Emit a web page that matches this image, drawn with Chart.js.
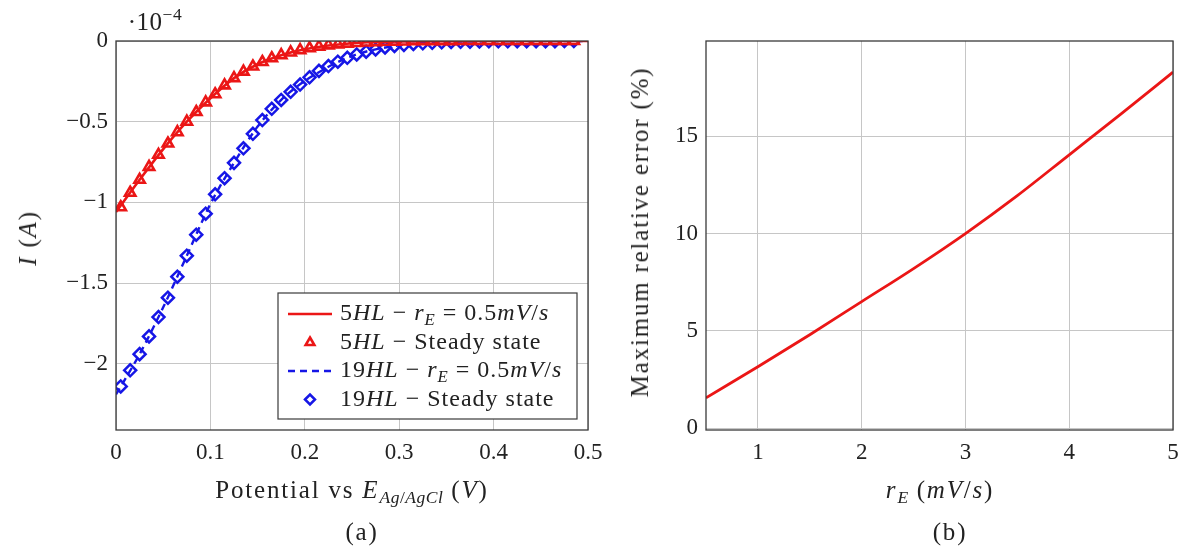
<!DOCTYPE html>
<html>
<head>
<meta charset="utf-8">
<script src="https://cdn.jsdelivr.net/npm/chart.js@4.4.1/dist/chart.umd.min.js"></script>
<style>
  body { margin: 0; background: #fff; }
  #wrap { position: relative; width: 1192px; height: 549px; font-family: 'Liberation Serif', serif; color: #222; }
  canvas { position: absolute; top: 0; }
  .lbl { position: absolute; transform: translate(-50%, -50%); white-space: nowrap; font-size: 25px; letter-spacing: 1.8px; }
  .rot { transform: translate(-50%, -50%) rotate(-90deg); }
  sub { font-size: 70%; vertical-align: -0.3em; line-height: 0; letter-spacing: 0.5px; }
  sup { font-size: 70%; vertical-align: 0.6em; line-height: 0; }
</style>
</head>
<body>
<div id="wrap">
  <canvas id="chartA" width="630" height="549" style="left:0"></canvas>
  <canvas id="chartB" width="592" height="549" style="left:600px"></canvas>
  <div class="lbl" style="left:155px; top:22px; letter-spacing:0.5px;">·10<sup>−4</sup></div>
  <div class="lbl rot" style="left:28px; top:238px;"><i>I</i> (<i>A</i>)</div>
  <div class="lbl" style="left:352px; top:490px;">Potential vs <i>E</i><sub><i>Ag</i>/<i>AgCl</i></sub> (<i>V</i>)</div>
  <div class="lbl" style="left:362px; top:532px;">(a)</div>
  <div class="lbl rot" style="left:640px; top:232px;">Maximum relative error (%)</div>
  <div class="lbl" style="left:940px; top:490px;"><i>r<sub>E</sub></i> (<i>mV</i>/<i>s</i>)</div>
  <div class="lbl" style="left:950px; top:532px;">(b)</div>
</div>
<script>
// ---- datos panel (a): corriente (x 1e-4 A) vs potencial (V) ----
const lineX = [0, 0.025, 0.05, 0.075, 0.1, 0.125, 0.15, 0.175, 0.2, 0.25, 0.3, 0.35, 0.4, 0.45, 0.5];
const line5HL = [-1.06, -0.86, -0.67, -0.50, -0.355, -0.23, -0.144, -0.088, -0.051, -0.014, -0.0035, -0.001, 0, 0, 0];
const line19HL = [-2.19, -1.94, -1.65, -1.33, -1.01, -0.755, -0.53, -0.365, -0.248, -0.093, -0.027, -0.007, -0.002, -0.001, 0];

const markX = [0.005, 0.015, 0.025, 0.035, 0.045, 0.055, 0.065, 0.075, 0.085, 0.095,
  0.105, 0.115, 0.125, 0.135, 0.145, 0.155, 0.165, 0.175, 0.185, 0.195,
  0.205, 0.215, 0.225, 0.235, 0.245, 0.255, 0.265, 0.275, 0.285, 0.295,
  0.305, 0.315, 0.325, 0.335, 0.345, 0.355, 0.365, 0.375, 0.385, 0.395,
  0.405, 0.415, 0.425, 0.435, 0.445, 0.455, 0.465, 0.475, 0.485];
const mark5HL = [-1.03, -0.94, -0.86, -0.78, -0.705, -0.635, -0.565, -0.50, -0.44, -0.38,
  -0.33, -0.275, -0.23, -0.19, -0.158, -0.13, -0.107, -0.088, -0.071, -0.057,
  -0.045, -0.035, -0.027, -0.021, -0.016, -0.012, -0.009, -0.007, -0.005, -0.004,
  -0.003, -0.002, -0.002, -0.001, -0.001, -0.001, 0, 0, 0, 0,
  0, 0, 0, 0, 0, 0, 0, 0, 0];
const mark19HL = [-2.14, -2.04, -1.94, -1.83, -1.71, -1.59, -1.46, -1.33, -1.20, -1.07,
  -0.95, -0.85, -0.755, -0.665, -0.575, -0.49, -0.42, -0.365, -0.315, -0.27,
  -0.225, -0.185, -0.155, -0.128, -0.104, -0.083, -0.066, -0.052, -0.04, -0.031,
  -0.024, -0.018, -0.014, -0.011, -0.008, -0.006, -0.005, -0.004, -0.003, -0.002,
  -0.002, -0.002, -0.001, -0.001, -0.001, -0.001, -0.001, 0, 0];

const xTicksA = [0, 0.1, 0.2, 0.3, 0.4, 0.5];
const yTicksA = [-2, -1.5, -1, -0.5, 0];

// ---- datos panel (b): error relativo maximo (%) vs r_E (mV/s) ----
const rateE = [0.5, 1, 1.5, 2, 2.5, 3, 3.5, 4, 4.5, 5];
const maxError = [1.55, 3.15, 4.8, 6.5, 8.2, 10.0, 11.95, 14.05, 16.15, 18.3];
const xTicksB = [1, 2, 3, 4, 5];
const yTicksB = [0, 5, 10, 15];

const RED = 'rgb(235,22,22)';
const BLUE = 'rgb(22,22,230)';
const GRID = '#c6c6c6';
const FONT = 'Liberation Serif';

Chart.defaults.font.family = FONT;
Chart.defaults.color = '#222';

const pts = (xs, ys) => xs.map((x, i) => ({ x: x, y: ys[i] }));
const fmt = v => (v < 0 ? '−' : '') + String(Math.abs(v));

// marco completo alrededor del area de la grafica
const framePlugin = {
  id: 'frame',
  afterDraw(chart) {
    const a = chart.chartArea, ctx = chart.ctx;
    ctx.save();
    ctx.strokeStyle = '#3a3a3a';
    ctx.lineWidth = 1.3;
    ctx.strokeRect(a.left, a.top, a.right - a.left, a.bottom - a.top);
    ctx.restore();
  }
};

// texto con cursiva y subindices: <i>..</i> <sub>..</sub>
function richRuns(str) {
  const runs = [];
  let italic = false, sub = false;
  str.split(/(<\/?i>|<\/?sub>)/).forEach(tok => {
    if (tok === '<i>') italic = true;
    else if (tok === '</i>') italic = false;
    else if (tok === '<sub>') sub = true;
    else if (tok === '</sub>') sub = false;
    else if (tok) runs.push({ text: tok, italic: italic, sub: sub });
  });
  return runs;
}

function drawRich(ctx, str, x, y, size) {
  ctx.letterSpacing = '1px';
  richRuns(str).forEach(r => {
    const s = r.sub ? size * 0.7 : size;
    ctx.font = (r.italic ? 'italic ' : '') + s + 'px ' + FONT;
    ctx.fillText(r.text, x, y + (r.sub ? size * 0.28 : 0));
    x += ctx.measureText(r.text).width;
  });
  ctx.letterSpacing = '0px';
}

// leyenda dentro del area, como en pgfplots
const boxLegend = {
  id: 'boxLegend',
  afterDraw(chart) {
    const ctx = chart.ctx;
    const bx = 278, by = 293, bw = 299, bh = 126;
    ctx.save();
    ctx.fillStyle = '#fff';
    ctx.fillRect(bx, by, bw, bh);
    ctx.strokeStyle = '#3a3a3a';
    ctx.lineWidth = 1.2;
    ctx.strokeRect(bx, by, bw, bh);
    chart.data.datasets.forEach((ds, i) => {
      const y = by + 21 + i * 28.5;
      if (ds.showLine) {
        ctx.strokeStyle = ds.borderColor;
        ctx.lineWidth = ds.borderWidth;
        ctx.setLineDash(ds.borderDash || []);
        ctx.beginPath();
        ctx.moveTo(288, y);
        ctx.lineTo(332, y);
        ctx.stroke();
        ctx.setLineDash([]);
      } else {
        ctx.strokeStyle = ds.borderColor;
        ctx.fillStyle = 'rgba(0,0,0,0)';
        ctx.lineWidth = ds.borderWidth;
        Chart.helpers.drawPoint(ctx, { pointStyle: ds.pointStyle, radius: ds.pointRadius - 1, rotation: 0, borderWidth: ds.borderWidth }, 310, y);
      }
      ctx.fillStyle = '#222';
      ctx.textBaseline = 'middle';
      drawRich(ctx, ds.label, 340, y, 24);
    });
    ctx.restore();
  }
};

function axisOpts(min, max, ticks, size, pad) {
  return {
    type: 'linear',
    min: min,
    max: max,
    afterBuildTicks: s => { s.ticks = ticks.map(v => ({ value: v })); },
    grid: { color: GRID, lineWidth: 1, drawTicks: false },
    border: { display: false },
    ticks: { font: { size: 23 }, color: '#222', padding: pad, callback: v => fmt(v) },
    afterFit: s => {
      if (s.isHorizontal()) { s.height = size; s.paddingLeft = 0; s.paddingRight = 0; }
      else { s.width = size; s.paddingTop = 0; s.paddingBottom = 0; }
    }
  };
}

new Chart(document.getElementById('chartA'), {
  type: 'scatter',
  data: {
    datasets: [
      {
        label: '5<i>HL</i> − <i>r</i><sub><i>E</i></sub> = 0.5<i>mV</i>/<i>s</i>',
        data: pts(lineX, line5HL),
        showLine: true, borderColor: RED, borderWidth: 2.6, pointRadius: 0,
        cubicInterpolationMode: 'monotone'
      },
      {
        label: '5<i>HL</i> − Steady state',
        data: pts(markX, mark5HL),
        pointStyle: 'triangle', pointRadius: 6, borderWidth: 2.6,
        borderColor: RED, backgroundColor: 'rgba(255,255,255,0)'
      },
      {
        label: '19<i>HL</i> − <i>r</i><sub><i>E</i></sub> = 0.5<i>mV</i>/<i>s</i>',
        data: pts(lineX, line19HL),
        showLine: true, borderColor: BLUE, borderWidth: 2.4, borderDash: [7, 5], pointRadius: 0,
        cubicInterpolationMode: 'monotone'
      },
      {
        label: '19<i>HL</i> − Steady state',
        data: pts(markX, mark19HL),
        pointStyle: 'rectRot', pointRadius: 6, borderWidth: 2.5,
        borderColor: BLUE, backgroundColor: 'rgba(255,255,255,0)'
      }
    ]
  },
  options: {
    responsive: false,
    animation: false,
    devicePixelRatio: 1,
    layout: { padding: { left: 0, top: 41, right: 42, bottom: 79 } },
    plugins: { legend: { display: false }, tooltip: { enabled: false } },
    scales: {
      x: axisOpts(0, 0.5, xTicksA, 40, 9),
      y: axisOpts(-2.41, 0, yTicksA, 116, 8)
    }
  },
  plugins: [framePlugin, boxLegend]
});

new Chart(document.getElementById('chartB'), {
  type: 'scatter',
  data: {
    datasets: [
      {
        label: 'Maximum relative error',
        data: pts(rateE, maxError),
        showLine: true, borderColor: RED, borderWidth: 2.8, pointRadius: 0,
        cubicInterpolationMode: 'monotone'
      }
    ]
  },
  options: {
    responsive: false,
    animation: false,
    devicePixelRatio: 1,
    layout: { padding: { left: 0, top: 41, right: 19, bottom: 79 } },
    plugins: { legend: { display: false }, tooltip: { enabled: false } },
    scales: {
      x: axisOpts(0.5, 5, xTicksB, 40, 9),
      y: axisOpts(-0.1, 19.9, yTicksB, 106, 8)
    }
  },
  plugins: [framePlugin]
});
</script>
</body>
</html>
